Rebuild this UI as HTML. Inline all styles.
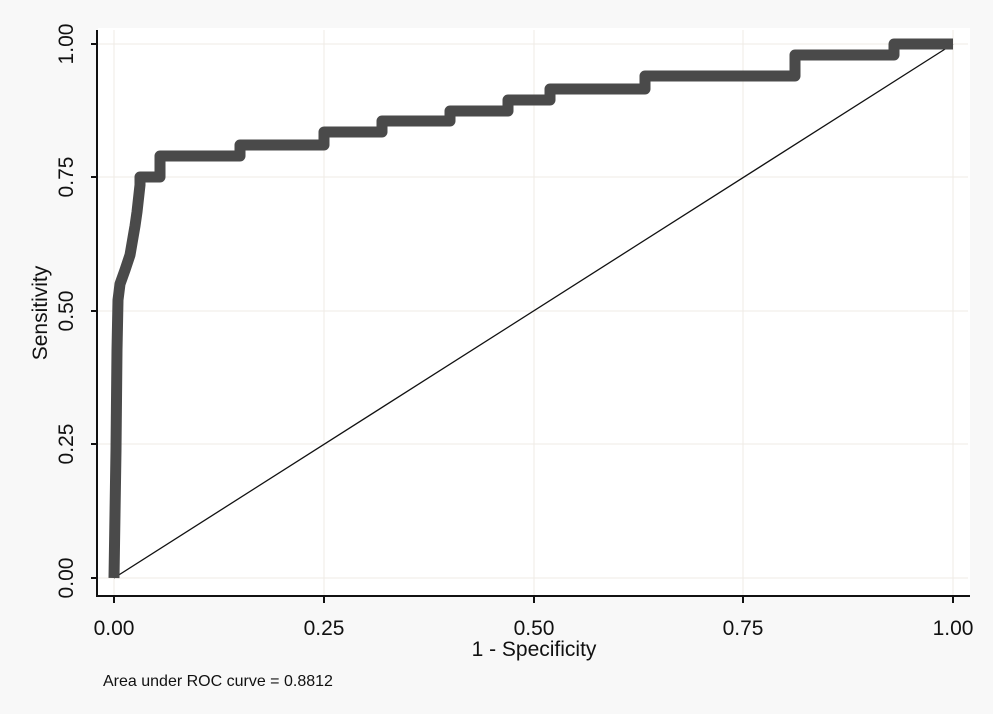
<!DOCTYPE html>
<html><head><style>
html,body{margin:0;padding:0;background:#fafafa;}
svg{display:block;font-family:"Liberation Sans",sans-serif;}
</style></head><body>
<svg width="993" height="714" viewBox="0 0 993 714">
<rect width="993" height="714" fill="#f8f8f8"/>
<rect x="98" y="28" width="872" height="568" fill="#fff"/>
<g stroke="#efebe6" stroke-width="1">
<line x1="114" y1="30" x2="114" y2="595"/><line x1="324" y1="30" x2="324" y2="595"/><line x1="534" y1="30" x2="534" y2="595"/><line x1="743" y1="30" x2="743" y2="595"/><line x1="953" y1="30" x2="953" y2="595"/>
<line x1="98" y1="44" x2="968" y2="44"/><line x1="98" y1="177" x2="968" y2="177"/><line x1="98" y1="311" x2="968" y2="311"/><line x1="98" y1="444" x2="968" y2="444"/><line x1="98" y1="578" x2="968" y2="578"/>
</g>
<line x1="114" y1="578" x2="953" y2="44" stroke="#111" stroke-width="1.3"/>
<polyline fill="none" stroke="#4a4a4a" stroke-width="11" stroke-linejoin="round" points="114,578 116,450 117,350 118,300 120,284 125,270 130,255 135,226 137,212 140,185 140,177 160,177 160,156 240,156 240,145 324,145 324,132 382,132 382,121 450,121 450,111 508,111 508,100 550,100 550,89 645,89 645,76 795,76 795,55 894,55 894,44 953,44"/>
<g stroke="#111" stroke-width="2" fill="none">
<line x1="97" y1="30" x2="97" y2="596"/><line x1="96" y1="596" x2="970" y2="596"/>
<line x1="91" y1="44" x2="97" y2="44"/><line x1="91" y1="177" x2="97" y2="177"/><line x1="91" y1="311" x2="97" y2="311"/><line x1="91" y1="444" x2="97" y2="444"/><line x1="91" y1="578" x2="97" y2="578"/>
<line x1="114" y1="596" x2="114" y2="603"/><line x1="324" y1="596" x2="324" y2="603"/><line x1="534" y1="596" x2="534" y2="603"/><line x1="743" y1="596" x2="743" y2="603"/><line x1="953" y1="596" x2="953" y2="603"/>
</g>
<g font-size="21" fill="#111" text-anchor="middle">
<text transform="translate(73,44) rotate(-90)">1.00</text>
<text transform="translate(73,177) rotate(-90)">0.75</text>
<text transform="translate(73,311) rotate(-90)">0.50</text>
<text transform="translate(73,444) rotate(-90)">0.25</text>
<text transform="translate(73,578) rotate(-90)">0.00</text>
<text x="114" y="635">0.00</text><text x="324" y="635">0.25</text><text x="534" y="635">0.50</text><text x="743" y="635">0.75</text><text x="953" y="635">1.00</text>
<text x="534" y="656">1 - Specificity</text>
<text transform="translate(47,313) rotate(-90)">Sensitivity</text>
</g>
<text x="103" y="686" font-size="16" fill="#111">Area under ROC curve = 0.8812</text>
</svg>
</body></html>
